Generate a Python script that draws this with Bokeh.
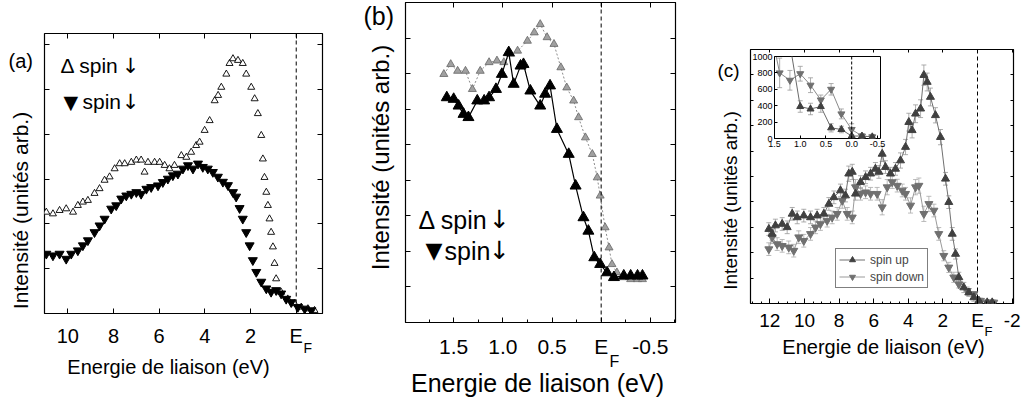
import math
import numpy as np
from bokeh.plotting import figure
from bokeh.models import (Range1d, Span, Label, LinearAxis, SingleIntervalTicker, FixedTicker,
                          Whisker, TeeHead, ColumnDataSource, Legend, LegendItem)
from bokeh.embed import file_html
from bokeh.resources import INLINE

FONT = "Liberation Sans"
SYM_FONT = "DejaVu Sans"

# ---------------- data: panel (a) ----------------
A_E_OPEN = [10.94, 10.65, 10.36, 10.07, 9.77, 9.56, 9.34, 9.12, 8.83, 8.61, 8.39, 8.17, 7.95, 7.73,
            7.51, 7.22, 7.0, 6.79, 6.64, 6.49, 6.2, 5.98, 5.76, 5.55, 5.33, 5.03, 4.81, 4.6, 4.38,
            4.23, 4.01, 3.79, 3.57, 3.42, 3.28, 3.06, 2.92, 2.77, 2.55, 2.34, 2.19, 1.97, 1.82, 1.68,
            1.53, 1.46, 1.39, 1.31, 1.24, 1.17, 1.10, 1.02, 0.95, 0.88, 0.66, 0.37, 0.07, -0.22,
            -0.51, -0.8]
A_I_OPEN = [36.2, 35.6, 36.8, 37.4, 36.2, 38.6, 39.8, 40.4, 42.9, 44.6, 47.6, 48.8, 51.7, 53.5,
            53.5, 54.0, 54.8, 54.8, 50.5, 54.0, 54.0, 54.0, 52.9, 51.7, 52.9, 56.4, 55.8, 57.6, 60.0,
            61.2, 65.4, 68.9, 76.0, 77.9, 80.8, 85.5, 89.3, 91.0, 90.4, 89.3, 85.5, 80.8, 76.7, 71.4,
            63.6, 55.2, 48.6, 43.3, 38.6, 33.8, 29.0, 23.8, 17.9, 12.4, 7.6, 5.2, 3.5, 2.3,
            1.7, 1.1]
A_E_FILL = [10.94, 10.65, 10.36, 10.07, 9.85, 9.56, 9.34, 9.12, 8.83, 8.61, 8.39, 8.10, 7.88, 7.66,
            7.44, 7.22, 7.0, 6.79, 6.56, 6.35, 6.05, 5.84, 5.62, 5.4, 5.18, 4.96, 4.74, 4.52, 4.3,
            4.09, 3.87, 3.65, 3.43, 3.21, 2.99, 2.77, 2.63, 2.48, 2.34, 2.19, 2.04, 1.90, 1.75, 1.53,
            1.31, 1.10, 0.88, 0.66, 0.44, 0.22, -0.07, -0.37, -0.66]
A_I_FILL = [21.3, 20.7, 21.3, 19.5, 21.3, 22.5, 24.3, 26.1, 29.0, 31.4, 33.8, 37.4, 38.6, 41.0,
            42.1, 42.7, 43.3, 42.7, 44.5, 45.1, 45.7, 46.9, 48.1, 49.3, 49.9, 51.7, 52.9, 51.7, 53.5,
            52.3, 51.7, 50.5, 48.8, 47.0, 45.8, 43.3, 41.7, 37.6, 33.8, 29.0, 24.3, 19.0, 14.8, 11.3,
            8.9, 7.7, 8.3, 7.1, 5.2, 4.0, 2.3, 1.7, 1.1]

# ---------------- data: panel (b) ----------------
B_E_OPEN = [1.6, 1.53, 1.46, 1.38, 1.31, 1.23, 1.14, 1.06, 0.99, 0.92, 0.85, 0.75, 0.68, 0.62, 0.55,
            0.48, 0.41, 0.35, 0.28, 0.23, 0.16, 0.09, 0.04, 0.01, -0.04, -0.08, -0.11, -0.16, -0.23,
            -0.30, -0.37, -0.42]
B_I_OPEN = [77.6, 80.7, 78.6, 78.6, 72.9, 78.6, 81.3, 81.8, 81.3, 83.9, 84.9, 88.0, 90.6, 93.2, 89.1,
            87.0, 79.7, 73.4, 69.3, 64.1, 57.8, 52.6, 45.3, 39.6, 29.7, 23.4, 18.2, 15.6, 14.1,
            13.5, 13.5, 13.5]
B_E_FILL = [1.57, 1.50, 1.45, 1.40, 1.35, 1.26, 1.19, 1.14, 1.07, 1.01, 0.94, 0.89, 0.82, 0.79, 0.72,
            0.62, 0.57, 0.52, 0.45, 0.33, 0.26, 0.18, 0.13, 0.07, 0.01, -0.06, -0.13, -0.23, -0.30,
            -0.37, -0.42]
B_I_FILL = [70.3, 69.8, 67.7, 65.1, 64.1, 69.3, 69.3, 70.3, 72.9, 77.6, 84.4, 74.5, 80.2, 80.7, 72.4,
            67.7, 71.4, 74.0, 60.4, 52.6, 42.7, 32.8, 28.6, 20.3, 18.2, 15.6, 14.1, 14.6, 14.6,
            14.6, 14.6]

# ---------------- data: panel (c) ----------------
C_E_UP = [12.06, 11.87, 11.68, 11.29, 11.0, 10.71, 10.42, 10.04, 9.65, 9.27, 8.88, 8.59, 8.30, 7.92,
          7.63, 7.44, 7.24, 7.05, 6.76, 6.47, 6.18, 5.90, 5.70, 5.51, 5.32, 5.03, 4.74, 4.45, 4.16,
          3.97, 3.78, 3.58, 3.29, 3.10, 2.91, 2.72, 2.43, 2.14, 1.85, 1.66, 1.46, 1.27, 1.08, 0.79,
          0.50, 0.21, -0.08, -0.56, -0.85]
C_I_UP = [29.3, 27.4, 30.7, 31.3, 30.0, 35.3, 33.9, 34.6, 33.9, 34.6, 35.3, 39.2, 41.8, 44.5, 42.5,
          51.1, 51.8, 43.2, 47.8, 49.7, 51.1, 53.0, 51.8, 58.9, 53.7, 51.1, 53.0, 56.3, 61.6, 71.4,
          68.2, 74.7, 76.7, 89.9, 87.2, 81.3, 74.1, 65.5, 49.1, 39.9, 27.4, 19.5, 10.3, 6.3, 4.3,
          2.4, 1.1, 0.4, 0.4]
C_ERR_UP = [2.5, 2.5, 2.5, 2.5, 2.5, 2.5, 2.5, 2.5, 2.5, 2.5, 2.5, 2.5, 2.5, 2.5, 2.5, 3.0, 3.0,
            2.5, 2.5, 2.5, 2.5, 2.5, 2.5, 3.0, 2.5, 2.5, 2.5, 3.0, 3.0, 3.5, 3.0, 3.5, 3.5, 4.0,
            3.5, 3.5, 3.0, 3.0, 2.5, 2.5, 2.5, 2.0, 2.0, 2.0, 1.5, 1.5, 1.0, 1.0, 1.0]
C_E_DN = [12.06, 11.87, 11.58, 11.29, 10.91, 10.62, 10.33, 10.04, 9.65, 9.36, 9.08, 8.69, 8.40, 8.11,
          7.82, 7.53, 7.24, 7.05, 6.76, 6.47, 6.18, 5.80, 5.51, 5.22, 4.93, 4.64, 4.35, 4.16, 3.87,
          3.58, 3.39, 3.10, 2.81, 2.52, 2.24, 1.95, 1.66, 1.37, 1.08, 0.60, 0.21, -0.17, -0.56, -0.94]
C_I_DN = [21.4, 26.1, 23.4, 22.7, 22.1, 20.8, 26.1, 24.7, 27.4, 30.0, 31.3, 32.6, 33.9, 35.3, 40.5,
          35.3, 33.9, 45.8, 43.2, 43.8, 43.2, 43.2, 37.9, 45.8, 47.8, 46.4, 44.5, 43.2, 38.6, 45.8,
          46.4, 35.3, 39.2, 36.6, 27.4, 18.8, 14.2, 10.3, 7.6, 5.0, 3.7, 1.1, 0.4, 0.4]
C_ERR_DN = [2.5, 2.5, 2.5, 2.5, 2.5, 2.5, 2.5, 2.5, 2.5, 2.5, 2.5, 2.5, 2.5, 2.5, 3.0, 2.5, 2.5,
            3.0, 2.5, 2.5, 2.5, 2.5, 3.0, 3.0, 2.5, 2.5, 2.5, 2.5, 3.0, 3.0, 3.0, 3.0, 3.0, 2.5,
            2.5, 2.0, 2.0, 2.0, 1.5, 1.5, 1.0, 1.0, 1.0, 1.0]

# inset of (c)
IN_E_DN = [1.6, 1.4, 1.2, 1.0, 0.8, 0.6, 0.4, 0.2, 0.0, -0.2, -0.4]
IN_V_DN = [1400, 800, 710, 790, 650, 470, 600, 300, 110, 30, 20]
IN_ERR_DN = [0, 180, 120, 90, 90, 60, 70, 60, 70, 30, 30]
IN_E_UP = [1.2, 1.0, 0.8, 0.6, 0.4, 0.2, 0.0, -0.2, -0.4]
IN_V_UP = [1150, 390, 360, 390, 130, 110, 30, 30, 20]
IN_ERR_UP = [0, 70, 70, 70, 50, 40, 20, 20, 20]

# tick labels
A_TICKS = {10: "10", 8: "8", 6: "6", 4: "4", 2: "2", 0: "E"}
B_TICKS = {1.5: "1.5", 1.0: "1.0", 0.5: "0.5", 0: "E", -0.5: "-0.5"}
C_TICKS = {12: "12", 10: "10", 8: "8", 6: "6", 4: "4", 2: "2", 0: "E", -2: "-2"}
IN_XTICKS = {1.5: "1.5", 1.0: "1.0", 0.5: "0.5", 0: "0.0", -0.5: "-0.5"}
IN_YTICKS = {0: "0", 200: "200", 400: "400", 600: "600", 800: "800", 1000: "1000"}

XLABEL = "Energie de liaison (eV)"
YLABEL = "Intensité (unités arb.)"

XA, YA = (11.02, -1.15), (0, 100)
XB, YB = (1.99, -0.756), (0, 100)
XC, YC = (13.12, -2.08), (0, 100)
XI, YI = (1.5, -0.56), (0, 1000)


def place(p, left, top):
    p.styles = {"position": "absolute", "left": f"{left}px", "top": f"{top}px"}


def base_fig(w, h, xr, yr, bl, br, bt, bb):
    p = figure(width=w, height=h, x_range=Range1d(*xr), y_range=Range1d(*yr),
               output_backend="svg", toolbar_location=None,
               min_border_left=bl, min_border_right=br, min_border_top=bt, min_border_bottom=bb)
    p.grid.visible = False
    p.outline_line_color = "black"
    p.outline_line_width = 1.2
    p.background_fill_color = "white"
    for ax in p.axis:
        ax.axis_line_color = None
        ax.major_tick_in = 5
        ax.major_tick_out = 0
        ax.minor_tick_in = 0
        ax.minor_tick_out = 0
        ax.major_label_text_font = FONT
        ax.major_label_text_color = "black"
    return p


def hide_labels(ax):
    ax.major_label_text_font_size = "1px"
    ax.major_label_text_color = None
    ax.major_label_standoff = 0


def mirror(p, xticker, yticker, tick=5):
    top = LinearAxis(ticker=xticker)
    right = LinearAxis(ticker=yticker)
    for ax in (top, right):
        hide_labels(ax)
        ax.axis_line_color = None
        ax.major_tick_in = tick
        ax.major_tick_out = 0
        ax.minor_tick_in = 0
        ax.minor_tick_out = 0
    p.add_layout(top, "above")
    p.add_layout(right, "right")


# ================= panel (a) =================
p1 = base_fig(333, 388, XA, YA, 36, 19, 25, 83)
place(p1, 8, 8)
xt_a = FixedTicker(ticks=list(A_TICKS.keys()), minor_ticks=[])
yt_a = SingleIntervalTicker(interval=16, num_minor_ticks=0)
p1.xaxis.ticker = xt_a
p1.xaxis.major_label_overrides = A_TICKS
p1.xaxis.major_label_text_font_size = "20px"
p1.xaxis.major_label_standoff = 11
p1.yaxis.ticker = yt_a
hide_labels(p1.yaxis[0])
mirror(p1, xt_a, yt_a)
p1.add_layout(Span(location=0, dimension="height", line_dash="4 3", line_color="black", line_width=1))
p1.scatter(A_E_OPEN, A_I_OPEN, marker="triangle", size=7, fill_color="white", line_color="black", line_width=0.9)
p1.scatter(A_E_FILL, A_I_FILL, marker="inverted_triangle", size=9, fill_color="black", line_color="black")

# ================= panel (b) =================
p2 = base_fig(359, 394, XB, YB, 64, 25, 0, 74)
place(p2, 341, 2)
xt_b = FixedTicker(ticks=list(B_TICKS.keys()),
                   minor_ticks=[1.75, 1.25, 0.75, 0.25, -0.25, -0.75])
yt_b = SingleIntervalTicker(interval=11.1, num_minor_ticks=0)
p2.xaxis.ticker = xt_b
p2.xaxis.major_label_overrides = B_TICKS
p2.xaxis.major_label_text_font_size = "21px"
p2.xaxis.major_label_standoff = 12
p2.xaxis.minor_tick_in = 3
p2.yaxis.ticker = yt_b
hide_labels(p2.yaxis[0])
mirror(p2, xt_b, yt_b)
p2.add_layout(Span(location=0, dimension="height", line_dash="4 3", line_color="black", line_width=1))
p2.line(B_E_OPEN, B_I_OPEN, line_color="#8c8c8c", line_width=1, line_dash="2 2")
p2.scatter(B_E_OPEN, B_I_OPEN, marker="triangle", size=8, fill_color="#a0a0a0", line_color="#666666", line_width=0.8)
p2.line(B_E_FILL, B_I_FILL, line_color="black", line_width=1.2)
p2.scatter(B_E_FILL, B_I_FILL, marker="triangle", size=11, fill_color="black", line_color="black")

# ================= panel (c) =================
p3 = base_fig(323, 388, XC, YC, 50, 10, 41, 93)
place(p3, 700, 8)
xt_c = FixedTicker(ticks=list(C_TICKS.keys()), minor_ticks=list(np.arange(-2.0, 13.1, 0.5)))
yt_c = SingleIntervalTicker(interval=10, num_minor_ticks=0)
p3.xaxis.ticker = xt_c
p3.xaxis.major_label_overrides = C_TICKS
p3.xaxis.major_label_text_font_size = "19px"
p3.xaxis.major_label_standoff = 6
p3.xaxis.minor_tick_in = 2
p3.yaxis.ticker = yt_c
p3.yaxis.major_tick_in = 3
hide_labels(p3.yaxis[0])
mirror(p3, xt_c, yt_c, tick=3)
p3.add_layout(Span(location=0, dimension="height", line_dash="4 3", line_color="black", line_width=1))

src_up = ColumnDataSource(dict(e=C_E_UP, v=C_I_UP,
                               hi=[v + d for v, d in zip(C_I_UP, C_ERR_UP)],
                               lo=[v - d for v, d in zip(C_I_UP, C_ERR_UP)]))
src_dn = ColumnDataSource(dict(e=C_E_DN, v=C_I_DN,
                               hi=[v + d for v, d in zip(C_I_DN, C_ERR_DN)],
                               lo=[v - d for v, d in zip(C_I_DN, C_ERR_DN)]))
for src, col in ((src_dn, "#aaaaaa"), (src_up, "#999999")):
    p3.add_layout(Whisker(source=src, base="e", upper="hi", lower="lo", line_color=col, line_width=0.8,
                          upper_head=TeeHead(size=5, line_color=col, line_width=0.8),
                          lower_head=TeeHead(size=5, line_color=col, line_width=0.8)))
l_dn = p3.line("e", "v", source=src_dn, line_color="#9a9a9a", line_width=1)
s_dn = p3.scatter("e", "v", source=src_dn, marker="inverted_triangle", size=8, fill_color="#707070", line_color="#707070")
l_up = p3.line("e", "v", source=src_up, line_color="#707070", line_width=1)
s_up = p3.scatter("e", "v", source=src_up, marker="triangle", size=8, fill_color="#404040", line_color="#404040")
legend = Legend(items=[LegendItem(label="spin up", renderers=[l_up, s_up]),
                       LegendItem(label="spin down", renderers=[l_dn, s_dn])],
                location=(85, 15), orientation="vertical")
legend.label_text_font = FONT
legend.label_text_font_size = "12px"
legend.glyph_width = 26
legend.glyph_height = 15
legend.label_height = 15
legend.spacing = 2
legend.padding = 3
legend.margin = 0
legend.label_standoff = 5
legend.border_line_color = "black"
legend.border_line_width = 1
legend.background_fill_alpha = 1
p3.add_layout(legend)

# ================= inset of (c) =================
p4 = base_fig(146, 103, XI, YI, 30, 10, 4, 17)
place(p4, 744, 52)
p4.border_fill_alpha = 0
p4.outline_line_width = 1
p4.xaxis.ticker = FixedTicker(ticks=list(IN_XTICKS.keys()), minor_ticks=[])
p4.xaxis.major_label_overrides = IN_XTICKS
p4.yaxis.ticker = FixedTicker(ticks=list(IN_YTICKS.keys()), minor_ticks=[])
p4.yaxis.major_label_overrides = IN_YTICKS
for ax in p4.axis:
    ax.major_label_text_font_size = "9px"
    ax.major_label_standoff = 2
    ax.major_tick_in = 3
p4.add_layout(Span(location=0, dimension="height", line_dash="3 2", line_color="black", line_width=1))
isrc_dn = ColumnDataSource(dict(e=IN_E_DN, v=IN_V_DN,
                                hi=[v + d for v, d in zip(IN_V_DN, IN_ERR_DN)],
                                lo=[v - d for v, d in zip(IN_V_DN, IN_ERR_DN)]))
isrc_up = ColumnDataSource(dict(e=IN_E_UP, v=IN_V_UP,
                                hi=[v + d for v, d in zip(IN_V_UP, IN_ERR_UP)],
                                lo=[v - d for v, d in zip(IN_V_UP, IN_ERR_UP)]))
for src in (isrc_dn, isrc_up):
    p4.add_layout(Whisker(source=src, base="e", upper="hi", lower="lo", line_color="#999999", line_width=0.8,
                          upper_head=TeeHead(size=5, line_color="#999999", line_width=0.8),
                          lower_head=TeeHead(size=5, line_color="#999999", line_width=0.8)))
p4.line("e", "v", source=isrc_dn, line_color="#8a8a8a", line_width=1)
p4.scatter("e", "v", source=isrc_dn, marker="inverted_triangle", size=7, fill_color="#707070", line_color="#707070")
p4.line("e", "v", source=isrc_up, line_color="#6a6a6a", line_width=1)
p4.scatter("e", "v", source=isrc_up, marker="triangle", size=7, fill_color="#404040", line_color="#404040")

# ================= text overlay (page pixel coordinates) =================
p0 = figure(width=1030, height=403, x_range=Range1d(0, 1030), y_range=Range1d(403, 0),
            output_backend="svg", toolbar_location=None, x_axis_type=None, y_axis_type=None,
            min_border=0)
place(p0, 0, 0)
p0.grid.visible = False
p0.outline_line_color = None
p0.background_fill_alpha = 0
p0.border_fill_alpha = 0


def txt(x, y, text, size, align="left", baseline="middle", angle=0, font=FONT):
    p0.add_layout(Label(x=x, y=y, text=text, text_font=font, text_font_size=size,
                        text_align=align, text_baseline=baseline, angle=angle, text_color="black"))


# (a)
txt(8, 60, "(a)", "20px")
txt(60, 65, "Δ spin", "21px")
txt(130, 65, "↓", "21px", align="center", font=SYM_FONT)
txt(63, 101, "▼", "19px", font=SYM_FONT)
txt(82, 101, "spin", "21px")
txt(130, 101, "↓", "21px", align="center", font=SYM_FONT)
txt(20, 210, YLABEL, "21px", align="center", angle=math.pi / 2)
txt(168, 366, XLABEL, "20px", align="center", baseline="alphabetic")
txt(303, 347, "F", "14px", baseline="alphabetic")
# (b)
txt(363, 15, "(b)", "25px")
txt(418, 219, "Δ spin", "25px")
txt(499, 219, "↓", "25px", align="center", font=SYM_FONT)
txt(425, 250, "▼", "22px", font=SYM_FONT)
txt(444, 250, "spin", "25px")
txt(499, 250, "↓", "25px", align="center", font=SYM_FONT)
txt(380, 157, YLABEL, "24px", align="center", angle=math.pi / 2)
txt(537, 382, XLABEL, "25px", align="center", baseline="alphabetic")
txt(609, 361, "F", "16px", baseline="alphabetic")
# (c)
txt(717, 70, "(c)", "19px")
txt(730, 200, YLABEL, "19px", align="center", angle=math.pi / 2)
txt(883, 346, XLABEL, "20px", align="center", baseline="alphabetic")
txt(984, 331, "F", "13px", baseline="alphabetic")

open("out.html", "w").write(file_html([p1, p2, p3, p4, p0], INLINE))
